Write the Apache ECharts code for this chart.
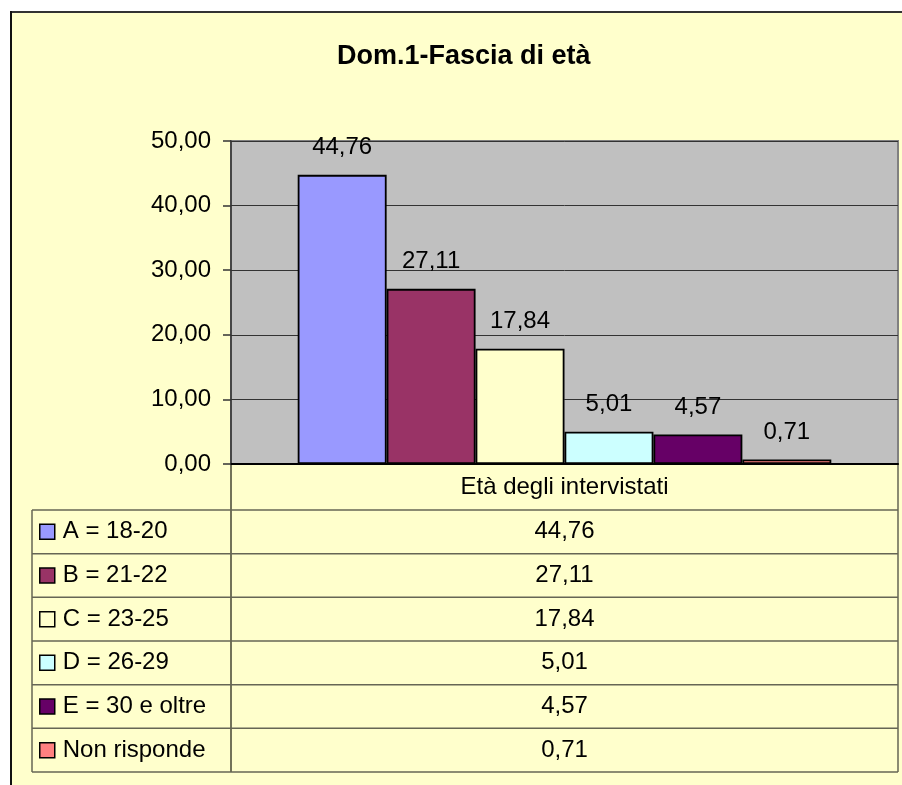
<!DOCTYPE html>
<html>
<head>
<meta charset="utf-8">
<script src="https://cdn.jsdelivr.net/npm/echarts@6/dist/echarts.min.js"></script>
<style>
  html, body { margin: 0; padding: 0; background: #fff; }
  #chart { width: 902px; height: 785px; }
</style>
</head>
<body>
<div id="chart"></div>
<script>
// dati
var categories = ['Età degli intervistati'];
var seriesNames = ['A = 18-20', 'B = 21-22', 'C = 23-25', 'D = 26-29', 'E = 30 e oltre', 'Non risponde'];
var values = [44.76, 27.11, 17.84, 5.01, 4.57, 0.71];
var colors = ['#9999FF', '#993366', '#FFFFCC', '#CCFFFF', '#660066', '#FF8080'];

var FONT = '"Liberation Sans", Arial, sans-serif';
var FS = 24;

function fmt(v) {
  return v.toFixed(2).replace('.', ',');
}

// posizioni tabella (layout)
var plotLeft = 231, plotRight = 898, plotBottom = 464;
var tableLeft = 32, headerBottom = 510, tableBottom = 772;
var rowH = (tableBottom - headerBottom) / seriesNames.length;

var chart = echarts.init(document.getElementById('chart'));

var series = seriesNames.map(function (name, i) {
  return {
    name: name,
    type: 'bar',
    barGap: '0%',
    barCategoryGap: '20%',
    data: [values[i]],
    itemStyle: { color: colors[i], borderColor: '#000', borderWidth: 1.8 },
    label: {
      show: true,
      position: 'top',
      distance: 15,
      color: '#000',
      fontFamily: FONT,
      fontSize: FS,
      formatter: function (p) { return fmt(p.value); }
    }
  };
});

// linee e testi della tabella dati
var graphics = [
  // cornice esterna
  { type: 'rect', shape: { x: 0, y: 0, width: 902, height: 11 }, style: { fill: '#fff' }, silent: true },
  { type: 'rect', shape: { x: 0, y: 0, width: 10, height: 785 }, style: { fill: '#fff' }, silent: true },
  { type: 'line', shape: { x1: 10, y1: 12, x2: 902, y2: 12 }, style: { stroke: '#333', lineWidth: 2 } },
  { type: 'line', shape: { x1: 11, y1: 11, x2: 11, y2: 785 }, style: { stroke: '#111', lineWidth: 2 } },
  // verticali
  { type: 'line', shape: { x1: tableLeft, y1: headerBottom, x2: tableLeft, y2: tableBottom }, style: { stroke: '#666655', lineWidth: 1.5 } },
  { type: 'line', shape: { x1: plotLeft, y1: plotBottom, x2: plotLeft, y2: tableBottom }, style: { stroke: '#444433', lineWidth: 1.5 } },
  { type: 'line', shape: { x1: plotRight, y1: plotBottom, x2: plotRight, y2: tableBottom }, style: { stroke: '#666655', lineWidth: 1.5 } }
];
for (var r = 0; r <= seriesNames.length; r++) {
  var y = headerBottom + r * rowH;
  graphics.push({ type: 'line', shape: { x1: tableLeft, y1: y, x2: plotRight, y2: y }, style: { stroke: '#666655', lineWidth: 1.5 } });
}
values.forEach(function (v, i) {
  graphics.push({
    type: 'text',
    x: (plotLeft + plotRight) / 2,
    y: headerBottom + (i + 0.5) * rowH,
    style: { text: fmt(v), fill: '#000', font: FS + 'px ' + FONT, align: 'center', verticalAlign: 'middle' }
  });
});

var option = {
  backgroundColor: '#FFFFCC',
  animation: false,
  title: {
    text: 'Dom.1-Fascia di età',
    left: 337,
    top: 43,
    padding: 0,
    textStyle: { fontFamily: FONT, fontSize: 27, fontWeight: 'bold', color: '#000' }
  },
  legend: {
    orient: 'vertical',
    left: 39,
    top: headerBottom + rowH / 2 - FS / 2,
    padding: 0,
    itemWidth: 15,
    itemHeight: 15,
    itemGap: rowH - FS,
    icon: 'rect',
    selectedMode: false,
    data: seriesNames,
    itemStyle: { borderColor: '#000', borderWidth: 1.5 },
    textStyle: { fontFamily: FONT, fontSize: FS, color: '#000', lineHeight: FS, padding: [0, 0, 0, 3] }
  },
  grid: {
    left: plotLeft,
    right: 902 - plotRight,
    top: 141,
    bottom: 785 - plotBottom,
    show: true,
    backgroundColor: '#C0C0C0',
    borderColor: '#808080',
    borderWidth: 2
  },
  xAxis: {
    type: 'category',
    data: categories,
    axisLine: { lineStyle: { color: '#000', width: 2 } },
    axisTick: { show: false },
    axisLabel: { margin: 11, color: '#000', fontFamily: FONT, fontSize: FS }
  },
  yAxis: {
    type: 'value',
    min: 0,
    max: 50,
    interval: 10,
    axisLine: { show: true, lineStyle: { color: '#333', width: 1.5 } },
    axisTick: { show: true, length: 8, lineStyle: { color: '#333', width: 1.5 } },
    splitLine: { lineStyle: { color: '#333', width: 1 } },
    axisLabel: {
      margin: 20,
      color: '#000',
      fontFamily: FONT,
      fontSize: FS,
      formatter: function (v) { return fmt(v); }
    }
  },
  series: series,
  graphic: graphics
};

chart.setOption(option);
</script>
</body>
</html>
